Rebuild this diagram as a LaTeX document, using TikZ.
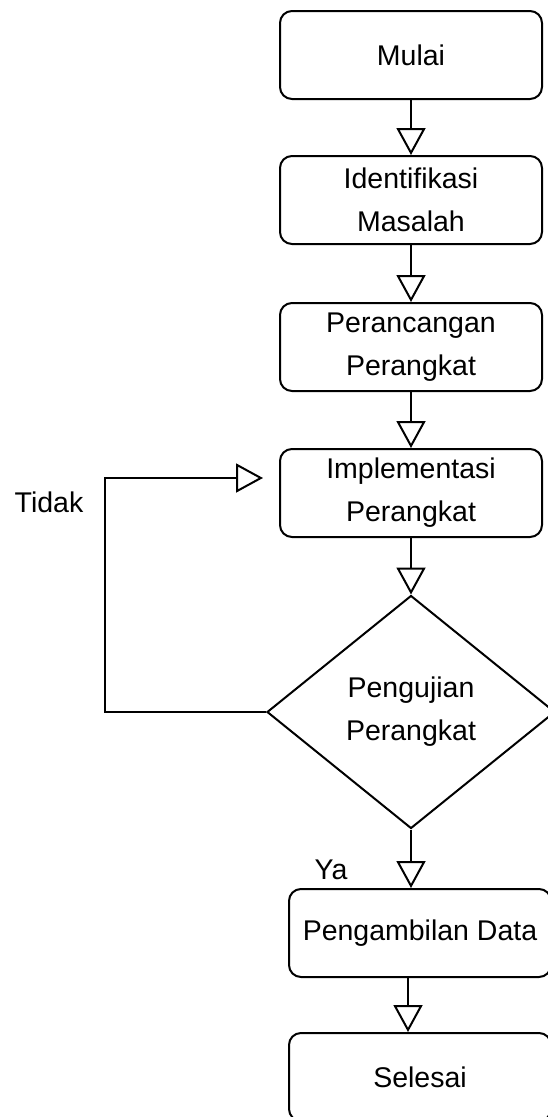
\documentclass[tikz,border=0pt]{standalone}
\usepackage{fontspec}
\setmainfont{Liberation Sans}
\usetikzlibrary{shapes.geometric,arrows.meta,calc}
\begin{document}
\begin{tikzpicture}[x=1pt,y=-1pt,
  every node/.style={font=\fontsize{28.5}{43}\selectfont},
  procbox/.style={draw,line width=2pt,rounded corners=12pt,minimum width=262pt,minimum height=88pt,inner sep=0pt,align=center},
  decision/.style={draw,line width=2pt,diamond,minimum width=288pt,minimum height=233pt,inner sep=0pt,align=center},
  arr/.style={line width=2pt,-{Triangle[open,length=27pt,width=29pt]}},
  lbl/.style={inner sep=0pt}]
\useasboundingbox (0,0) rectangle (547,1117);
\node[procbox] (mulai) at (411,55) {Mulai};
\node[procbox] (ident) at (411,200) {Identifikasi\\Masalah};
\node[procbox] (peranc) at (411,347) {Perancangan\\Perangkat};
\node[procbox] (impl) at (411,493) {Implementasi\\Perangkat};
\node[decision] (uji) at (411,712) {Pengujian\\Perangkat};
\node[procbox] (ambil) at (420,933) {Pengambilan Data};
\node[procbox] (selesai) at (420,1077) {Selesai};
\node[lbl] (tidak) at (49,502) {Tidak};
\node[lbl] (ya) at (331,870) {Ya};
\coordinate (loopend) at (263,478);
\draw[arr] (mulai.south) -- (ident.north);
\draw[arr] (ident.south) -- (peranc.north);
\draw[arr] (peranc.south) -- (impl.north);
\draw[arr] (impl.south) -- (uji.north);
\draw[arr] (uji.south) -- (uji.south |- ambil.north);
\draw[arr] ($(ambil.south)+(-12,0)$) -- ($(selesai.north)+(-12,0)$);
\draw[arr] (uji.west) -- ++(-161,0) |- (loopend);
\end{tikzpicture}
\end{document}
